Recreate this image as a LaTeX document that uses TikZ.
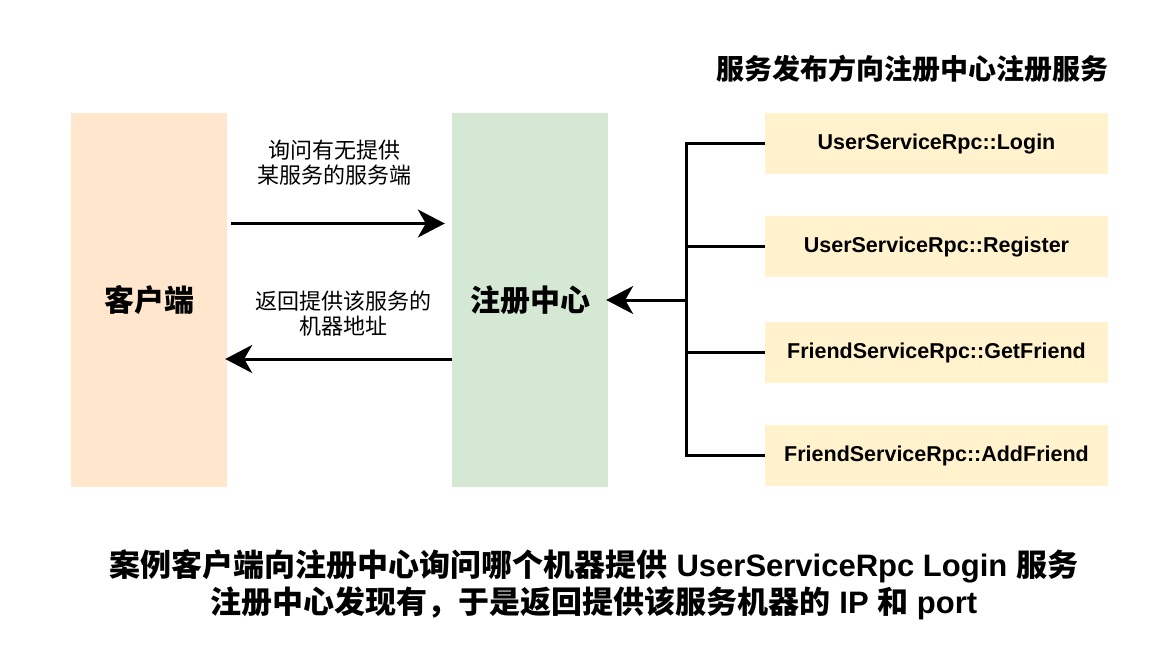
\documentclass[tikz,border=0pt]{standalone}
\usepackage{fontspec}
\setmainfont{Liberation Sans}
\newfontfamily\cjk{Noto Sans CJK SC}
\usetikzlibrary{arrows.meta}
\definecolor{peach}{HTML}{FFE6CC}
\definecolor{mint}{HTML}{D5E8D4}
\definecolor{cream}{HTML}{FFF2CC}
\begin{document}
\begin{tikzpicture}[x=1pt,y=-1pt,
  bigbox/.style={inner sep=0pt, minimum width=156pt, minimum height=374pt, font=\cjk\bfseries\fontsize{30}{34}\selectfont},
  svc/.style={fill=cream, inner sep=0pt, minimum width=343pt, minimum height=61pt, font=\bfseries\fontsize{21.5}{24}\selectfont},
  lbl/.style={align=center, inner sep=0pt, font=\cjk\fontsize{22}{25}\selectfont},
  wire/.style={line width=3pt},
  arr/.style={line width=3pt, -{Stealth[length=27pt,width=28pt,inset=8pt]}}]
\useasboundingbox (0,0) rectangle (1168,662);
\fill[white] (0,0) rectangle (1168,662);

\node[bigbox, fill=peach] (client) at (149,300) {客户端};
\node[bigbox, fill=mint] (reg) at (530,300) {注册中心};

\node[svc] (s1) at (936.5,143.5) {UserServiceRpc::Login};
\node[svc] (s2) at (936.5,246.5) {UserServiceRpc::Register};
\node[svc] (s3) at (936.5,352.5) {FriendServiceRpc::GetFriend};
\node[svc] (s4) at (936.5,455.5) {FriendServiceRpc::AddFriend};

\node[font=\cjk\bfseries\fontsize{28}{32}\selectfont, inner sep=0pt] (title) at (912.5,69) {服务发布方向注册中心注册服务};

\node[lbl] (ask) at (334,163) {询问有无提供\\某服务的服务端};
\node[lbl] (ret) at (343.5,314) {返回提供该服务的\\机器地址};

\coordinate (bus) at (686,300);

\draw[arr, shorten <=4pt, shorten >=7pt] (client.east |- 0,223.5) -- (reg.west |- 0,223.5);
\draw[arr, shorten >=-2pt] (reg.west |- 0,359) -- (client.east |- 0,359);

\draw[wire] (s1.west) -- (s1.west -| bus) -- (s4.west -| bus) -- (s4.west);
\draw[wire] (s2.west) -- (s2.west -| bus);
\draw[wire] (s3.west) -- (s3.west -| bus);
\draw[arr, shorten >=-2pt] (bus) -- (reg.east);

\node[align=center, inner sep=0pt, font=\bfseries\fontsize{31}{37}\selectfont] (note) at (594,584.5)
  {{\cjk 案例客户端向注册中心询问哪个机器提供} UserServiceRpc Login {\cjk 服务}\\
   {\cjk 注册中心发现有，于是返回提供该服务机器的} IP {\cjk 和} port};
\end{tikzpicture}
\end{document}
